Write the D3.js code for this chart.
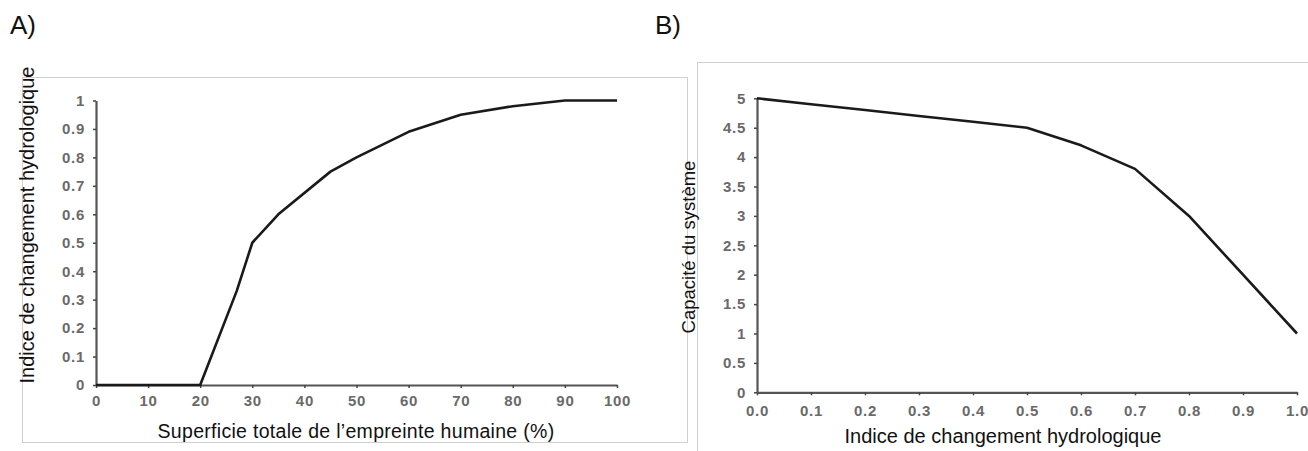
<!DOCTYPE html>
<html><head><meta charset="utf-8">
<script src="https://cdn.jsdelivr.net/npm/d3@7"></script>
<style>body{margin:0;background:#fff;}svg{display:block;font-family:"Liberation Sans",Arial,sans-serif;}</style>
</head><body>
<svg id="c" width="1308" height="451"></svg>
<script>
// Panel A data
const aX = [0, 20, 27, 30, 35, 45, 50, 60, 70, 80, 90, 100];
const aY = [0, 0, 0.33, 0.5, 0.6, 0.75, 0.8, 0.89, 0.95, 0.98, 1, 1];
const aXTicks = [0,10,20,30,40,50,60,70,80,90,100];
const aYTicks = [0,0.1,0.2,0.3,0.4,0.5,0.6,0.7,0.8,0.9,1];
// Panel B data
const bX = [0, 0.1, 0.2, 0.3, 0.4, 0.5, 0.6, 0.7, 0.8, 0.9, 1.0];
const bY = [5, 4.9, 4.8, 4.7, 4.6, 4.5, 4.2, 3.8, 3.0, 2.0, 1.0];
const bXTicks = [0,0.1,0.2,0.3,0.4,0.5,0.6,0.7,0.8,0.9,1.0];
const bYTicks = [0,0.5,1,1.5,2,2.5,3,3.5,4,4.5,5];

const svg = d3.select("#c");

function panel(o){
  const g = svg.append("g");
  g.append("rect").attr("x",o.frame[0]+0.5).attr("y",o.frame[1]+0.5)
    .attr("width",o.frame[2]).attr("height",o.frame[3])
    .attr("fill","none").attr("stroke","#cfcfcf").attr("stroke-width",1);
  const x = d3.scaleLinear().domain(o.xd).range(o.xr);
  const y = d3.scaleLinear().domain(o.yd).range(o.yr);
  const tickStyle = s => {
    s.select(".domain").attr("stroke","#555").attr("stroke-width",2.2);
    s.selectAll(".tick line").attr("stroke","#444").attr("stroke-width",1.5);
    s.selectAll(".tick text").attr("fill","#6a6a6a").attr("font-size","15px")
      .attr("font-weight","bold").attr("letter-spacing","0.7px")
      .attr("font-family","Liberation Sans, Arial, sans-serif");
  };
  g.append("g").attr("transform",`translate(0,${o.yr[0]})`)
    .call(d3.axisBottom(x).tickValues(o.xt).tickFormat(o.xf).tickSizeInner(3).tickSizeOuter(0).tickPadding(o.xpad))
    .call(tickStyle);
  g.append("g").attr("transform",`translate(${o.xr[0]},0)`)
    .call(d3.axisLeft(y).tickValues(o.yt).tickFormat(o.yf).tickSizeInner(3).tickSizeOuter(0).tickPadding(8))
    .call(tickStyle);
  const line = d3.line().x((d,i)=>x(o.dx[i])).y(d=>y(d));
  g.append("path").datum(o.dy).attr("d",line).attr("fill","none")
    .attr("stroke","#1a1a1a").attr("stroke-width",2.6).attr("stroke-linejoin","round");
  g.append("text").attr("x",o.xl[0]).attr("y",o.xl[1]).attr("text-anchor","middle")
    .attr("font-size",o.xls).attr("letter-spacing",o.xlsp).attr("fill","#111").text(o.xlabel);
  g.append("text").attr("transform",`translate(${o.yl[0]},${o.yl[1]}) rotate(-90)`)
    .attr("text-anchor","middle").attr("font-size",o.yls).attr("fill","#111").text(o.ylabel);
  g.append("text").attr("x",o.tag[0]).attr("y",o.tag[1]).attr("font-size","26px").attr("fill","#111").text(o.tagText);
}

panel({
  frame:[22,77,665,365],
  xd:[0,100], xr:[96,617], yd:[0,1], yr:[385,100.5], xpad:7,
  xt:aXTicks, yt:aYTicks, xf:d3.format("d"), yf:d=>d===0||d===1?String(d):d3.format(".1f")(d),
  dx:aX, dy:aY,
  xlabel:"Superficie totale de l\u2019empreinte humaine (%)", xl:[356,438], xls:"19.5px", xlsp:"0.3px",
  ylabel:"Indice de changement hydrologique", yl:[34,225], yls:"20px",
  tag:[10,34], tagText:"A)"
});
panel({
  frame:[697,62,640,420],
  xd:[0,1], xr:[757,1297], yd:[0,5], yr:[392.3,98.3], xpad:10,
  xt:bXTicks, yt:bYTicks, xf:d3.format(".1f"), yf:d=>String(d),
  dx:bX, dy:bY,
  xlabel:"Indice de changement hydrologique", xl:[1003,443], xls:"20px", xlsp:"0px",
  ylabel:"Capacit\u00e9 du syst\u00e8me", yl:[695,247], yls:"18.5px",
  tag:[655,34], tagText:"B)"
});
</script>
</body></html>
